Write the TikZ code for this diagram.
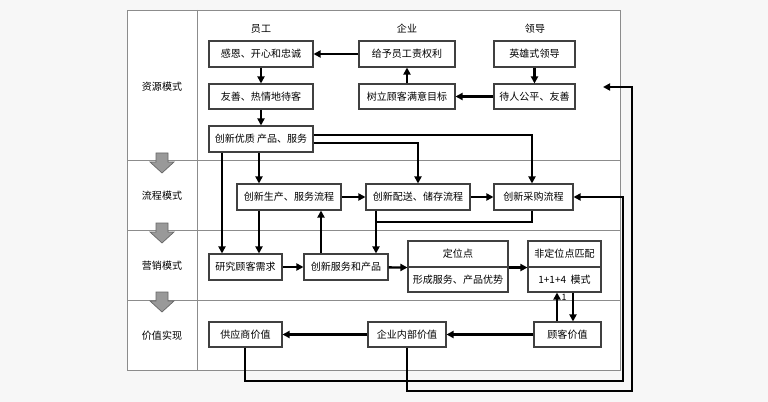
\documentclass[tikz,border=0pt]{standalone}
\usepackage{fontspec}
\setmainfont{Noto Sans CJK SC}
\usetikzlibrary{arrows.meta}
\begin{document}
\begin{tikzpicture}[x=0.02cm,y=-0.02cm,
 box/.style={draw=black!75,line width=0.6pt,fill=white,inner sep=0pt},
 txt/.style={font=\fontsize{5.7}{7}\selectfont},
 ar/.style={line width=1.3pt,-{Triangle[length=4pt,width=4pt]}},
 ln/.style={line width=1.3pt},
 frame/.style={draw=black!45,line width=0.5pt},
 down/.style={fill=black!40,draw=black!60,line width=0.4pt}]
\fill[black!3] (0,0) rectangle (768,402);
\useasboundingbox (0,0) rectangle (768,402);
\fill[white] (127,10) rectangle (620,370);
\draw[frame] (127,10) rectangle (620,370);
\draw[frame] (197,10) -- (197,370);
\foreach \y in {160,230,300} \draw[frame] (127,\y) -- (620,\y);
\node[txt] (r1) at (162,87) {资源模式};
\node[txt] (r2) at (162,196) {流程模式};
\node[txt] (r3) at (162,266) {营销模式};
\node[txt] (r4) at (162,336) {价值实现};
\foreach \y in {153,223,292}
 \draw[down] (156,\y) -- (168,\y) -- (168,\y+9) -- (174,\y+9) -- (162,\y+20) -- (150,\y+9) -- (156,\y+9) -- cycle;
\node[txt] (h1) at (261,29) {员工};
\node[txt] (h2) at (407,29) {企业};
\node[txt] (h3) at (535,29) {领导};
\newcommand{\bx}[6]{\node[box,txt,minimum width={(#4-#2)*0.02cm},minimum height={(#5-#3)*0.02cm}] (#1) at ({(#2+#4)/2},{(#3+#5)/2}) {#6};}
\bx{A}{209}{41}{313}{67}{感恩、开心和忠诚}
\bx{B}{359}{41}{455}{67}{给予员工责权利}
\bx{C}{494}{41}{575}{67}{英雄式领导}
\bx{D}{209}{84}{313}{109}{友善、热情地待客}
\bx{E}{359}{84}{455}{109}{树立顾客满意目标}
\bx{F}{494}{84}{575}{109}{待人公平、友善}
\bx{G}{209}{126}{313}{152}{创新优质 产品、服务}
\bx{H}{237}{184}{341}{210}{创新生产、服务流程}
\bx{I}{366}{184}{470}{210}{创新配送、储存流程}
\bx{J}{494}{184}{573}{210}{创新采购流程}
\bx{K}{209}{254}{282}{280}{研究顾客需求}
\bx{L}{304}{254}{388}{280}{创新服务和产品}
\bx{M1}{408}{241}{508}{267}{定位点}
\bx{M2}{408}{267}{508}{292}{形成服务、产品优势}
\bx{N1}{528}{241}{601}{267}{非定位点匹配}
\bx{N2}{528}{267}{601}{292}{1+1+4\ \ 模式}
\bx{O}{209}{322}{282}{347}{供应商价值}
\bx{P}{368}{322}{446}{347}{企业内部价值}
\bx{Q}{534}{322}{601}{347}{顾客价值}
\coordinate (fa) at (603,87);
\draw[ar] (B) -- (A);
\draw[ar] (C) -- (F);
\draw[ar] (F) -- (E);
\draw[ar] (E) -- (B);
\draw[ar] (A) -- (D);
\draw[ar] (D) -- (G);
\draw[ar] (G.east |- 0,135) -| (J.north -| 532,0);
\draw[ar] (G.east |- 0,143) -| (I.north -| 418,0);
\draw[ar] (G.south -| 259,0) -- (H.north -| 259,0);
\draw[ar] (G.south -| 222,0) -- (K.north -| 222,0);
\draw[ar] (H) -- (I);
\draw[ar] (I) -- (J);
\draw[ar] (H.south -| 259,0) -- (K.north -| 259,0);
\draw[ar] (L.north -| 321,0) -- (H.south -| 321,0);
\draw[ln] (J.south -| 532,0) |- (376,222);
\draw[ar] (I.south -| 376,0) -- (L.north -| 376,0);
\draw[ar] (K) -- (L);
\draw[ar] (L) -- (M1.south west);
\draw[ar] (M1.south east) -- (N1.south west);
\draw[ar] (Q.north -| 557,0) -- (N2.south -| 557,0);
\draw[ar] (N2.south -| 573,0) -- (Q.north -| 573,0);
\node[txt,font=\fontsize{5}{6}\selectfont] (one) at (564,297) {1};
\draw[ar] (Q) -- (P);
\draw[ar] (P) -- (O);
\draw[ar] (O.south -| 245,0) |- (623,381) |- (J.east);
\draw[ar] (P.south -| 407,0) |- (632,391) |- (fa);
\end{tikzpicture}
\end{document}
